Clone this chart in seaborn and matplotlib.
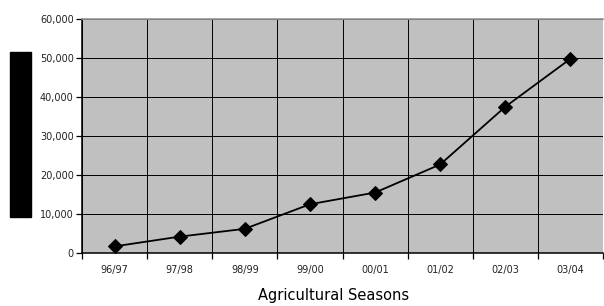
import numpy as np
import pandas as pd
import seaborn as sns
from matplotlib import pyplot as plt
from matplotlib.patches import Rectangle
from matplotlib.ticker import FuncFormatter, FixedLocator

seasons = ["96/97", "97/98", "98/99", "99/00", "00/01", "01/02", "02/03", "03/04"]
values = [1700, 4200, 6200, 12500, 15500, 22700, 37500, 49800]

sns.set_style("white")
plt.rcParams["font.family"] = ["DejaVu Sans"]

df = pd.DataFrame({"season": seasons, "value": values})

fig = plt.figure(figsize=(6.04, 3.06), dpi=100)
ax = fig.add_axes([82 / 604, 1 - 253 / 306, 521 / 604, 234 / 306])
ax.set_facecolor("#c0c0c0")

sns.lineplot(data=df, x="season", y="value", ax=ax, color="black", lw=1.3,
             marker="D", markersize=7, markeredgecolor="black", sort=False)

ax.set_xlim(-0.5, len(seasons) - 0.5)
ax.set_ylim(0, 60000)
ax.set_yticks(range(0, 60001, 10000))
ax.yaxis.set_major_formatter(FuncFormatter(lambda v, p: f"{int(v):,}"))

# category boundaries carry the tick marks and vertical grid
ax.xaxis.set_minor_locator(FixedLocator(np.arange(-0.5, len(seasons), 1.0)))
ax.tick_params(axis="x", which="major", length=0, labelsize=7, pad=9, colors="#222222")
ax.tick_params(axis="x", which="minor", length=4, width=0.9, color="black", direction="out")
ax.tick_params(axis="y", which="major", length=4, width=0.9, color="black", direction="out",
               labelsize=7, labelcolor="#222222", pad=2)
ax.xaxis.set_ticks_position("bottom")
ax.yaxis.set_ticks_position("left")

ax.grid(False)
ax.grid(True, axis="y", which="major", color="black", lw=0.7)
ax.grid(True, axis="x", which="minor", color="black", lw=0.7)

for s in ["left", "bottom"]:
    ax.spines[s].set_color("black")
    ax.spines[s].set_linewidth(1.1)
ax.spines["top"].set_color("#999999")
ax.spines["top"].set_linewidth(1.2)
ax.spines["right"].set_visible(False)

ax.set_xlabel("Agricultural Seasons", fontsize=10.5, fontweight="medium", color="black")
ax.xaxis.set_label_coords(0.483, -0.15)
ax.set_ylabel("")

# dark block left of the axis
fig.patches.append(Rectangle((10 / 604, 1 - 217 / 306), 21 / 604, 165 / 306,
                             transform=fig.transFigure, color="black", zorder=5))

fig.savefig("out.png", dpi=100)
